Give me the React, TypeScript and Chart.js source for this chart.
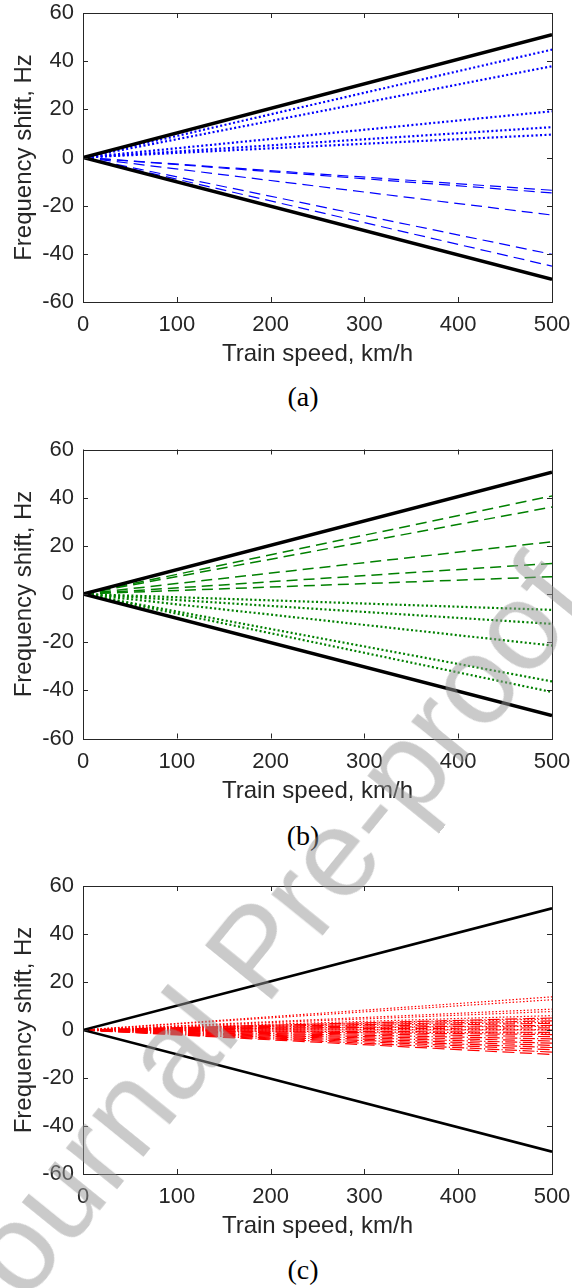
import React, { useEffect, useRef } from "react";
import { Chart, registerables } from "chart.js";

Chart.register(...registerables);

// ---------- data ----------
const speedKmh = [0, 500];
const xTickValues = [0, 100, 200, 300, 400, 500];
const yTickValues = [-60, -40, -20, 0, 20, 40, 60];

// Panel (a): frequency shift (Hz) at speeds [0, 500] km/h
const aEnvelope = [
  [0, 51.0],
  [0, -50.6],
];
const aBlueDotted = [
  [0, 44.8],
  [0, 37.9],
  [0, 19.2],
  [0, 12.6],
  [0, 9.5],
];
const aBlueDashed = [
  [0, -13.6],
  [0, -14.7],
  [0, -23.9],
  [0, -40.2],
  [0, -45.1],
];

// Panel (b)
const bEnvelope = [
  [0, 50.6],
  [0, -50.5],
];
const bGreenDashed = [
  [0, 40.7],
  [0, 36.1],
  [0, 21.7],
  [0, 12.7],
  [0, 7.2],
];
const bGreenDotted = [
  [0, -6.6],
  [0, -12.4],
  [0, -21.4],
  [0, -36.3],
  [0, -40.7],
];

// Panel (c)
const cEnvelope = [
  [0, 50.7],
  [0, -50.7],
];
const cRedDotted = [
  [0, 13.8],
  [0, 12.6],
  [0, 8.7],
  [0, 7.7],
  [0, 6.0],
  [0, 4.6],
  [0, 3.2],
  [0, 1.6],
  [0, 0.2],
  [0, -1.3],
];
const cRedDashed = [
  [0, 2.8],
  [0, 0.9],
  [0, -1.0],
  [0, -2.8],
  [0, -4.6],
  [0, -6.4],
  [0, -8.2],
  [0, -10.2],
];
const cRedDashDot = [
  [0, 5.0],
  [0, 3.8],
  [0, 1.9],
  [0, 0.0],
  [0, -1.9],
  [0, -3.7],
  [0, -5.5],
  [0, -7.3],
  [0, -9.2],
];

// ---------- styling ----------
const SANS = "'Liberation Sans', Arial, Helvetica, sans-serif";
const SERIF = "'Liberation Serif', 'Times New Roman', serif";
const AXIS_COLOR = "#262626";

type Style = { color: string; width: number; dash: number[] };

function lineSet(series: number[][], style: Style) {
  return series.map((vals) => ({
    data: speedKmh.map((x, i) => ({ x, y: vals[i] })),
    borderColor: style.color,
    borderWidth: style.width,
    borderDash: style.dash,
    pointRadius: 0,
    fill: false,
    tension: 0,
    borderCapStyle: "butt" as const,
  }));
}

const framePlugin = {
  id: "matlabFrame",
  afterDatasetsDraw(chart: any) {
    const { ctx, chartArea, scales } = chart;
    const { left, right, top, bottom } = chartArea;
    const x = scales.x;
    const y = scales.y;
    const L = 5;
    ctx.save();
    ctx.strokeStyle = AXIS_COLOR;
    ctx.lineWidth = 1;
    ctx.beginPath();
    xTickValues.forEach((v) => {
      const px = Math.round(x.getPixelForValue(v)) + 0.5;
      ctx.moveTo(px, bottom);
      ctx.lineTo(px, bottom - L);
      ctx.moveTo(px, top);
      ctx.lineTo(px, top + L);
    });
    yTickValues.forEach((v) => {
      const py = Math.round(y.getPixelForValue(v)) + 0.5;
      ctx.moveTo(left, py);
      ctx.lineTo(left + L, py);
      ctx.moveTo(right, py);
      ctx.lineTo(right - L, py);
    });
    ctx.stroke();
    ctx.strokeRect(
      Math.round(left) + 0.5,
      Math.round(top) + 0.5,
      Math.round(right - left),
      Math.round(bottom - top)
    );
    ctx.restore();
  },
};

function makeConfig(datasets: any[], padTop: number, padBottom: number): any {
  return {
    type: "line",
    data: { datasets },
    plugins: [framePlugin],
    options: {
      animation: false,
      responsive: false,
      devicePixelRatio: 1,
      layout: { padding: { top: padTop, right: 20, left: 0, bottom: padBottom } },
      plugins: { legend: { display: false }, tooltip: { enabled: false } },
      scales: {
        x: {
          type: "linear",
          min: 0,
          max: 500,
          afterBuildTicks: (s: any) => {
            s.ticks = xTickValues.map((v) => ({ value: v }));
          },
          afterFit: (s: any) => {
            s.height = 67;
            s.paddingLeft = 0;
            s.paddingRight = 0;
          },
          ticks: {
            color: AXIS_COLOR,
            font: { family: SANS, size: 22 },
            padding: 10,
            maxRotation: 0,
            autoSkip: false,
          },
          grid: { display: false, drawTicks: false },
          border: { display: false },
          title: {
            display: true,
            text: "Train speed, km/h",
            color: AXIS_COLOR,
            font: { family: SANS, size: 24 },
            padding: { top: 0, bottom: 0 },
          },
        },
        y: {
          type: "linear",
          min: -60,
          max: 60,
          afterBuildTicks: (s: any) => {
            s.ticks = yTickValues.map((v) => ({ value: v }));
          },
          afterFit: (s: any) => {
            s.width = 83;
            s.paddingTop = 0;
            s.paddingBottom = 0;
          },
          ticks: {
            color: AXIS_COLOR,
            font: { family: SANS, size: 22, lineHeight: 1 },
            padding: 9,
            autoSkip: false,
          },
          grid: { display: false, drawTicks: false },
          border: { display: false },
          title: {
            display: true,
            text: "Frequency shift, Hz",
            color: AXIS_COLOR,
            font: { family: SANS, size: 24 },
            padding: { top: 10, bottom: 0 },
          },
        },
      },
    },
  };
}

function Panel(props: { top: number; datasets: any[]; padTop: number; padBottom: number }) {
  const ref = useRef<HTMLCanvasElement | null>(null);
  useEffect(() => {
    if (!ref.current) return;
    const chart = new Chart(ref.current, makeConfig(props.datasets, props.padTop, props.padBottom));
    return () => chart.destroy();
  }, []);
  return (
    <canvas
      ref={ref}
      width={572}
      height={372}
      style={{ position: "absolute", left: 0, top: props.top, width: 572, height: 372, display: "block" }}
    />
  );
}

function Caption(props: { text: string; top: number }) {
  return (
    <div
      style={{
        position: "absolute",
        left: 303,
        top: props.top,
        transform: "translate(-50%, -50%)",
        fontFamily: SERIF,
        fontSize: 28,
        lineHeight: 1,
        color: "#000",
        whiteSpace: "nowrap",
      }}
    >
      {props.text}
    </div>
  );
}

const black35: Style = { color: "#000000", width: 3.5, dash: [] };
const black25: Style = { color: "#000000", width: 2.6, dash: [] };

const datasetsA = [
  ...lineSet(aEnvelope, black35),
  ...lineSet(aBlueDotted, { color: "#0000ff", width: 2.2, dash: [2, 2.4] }),
  ...lineSet(aBlueDashed, { color: "#0000ff", width: 1.2, dash: [11, 6] }),
];
const datasetsB = [
  ...lineSet(bEnvelope, black35),
  ...lineSet(bGreenDashed, { color: "#008000", width: 1.5, dash: [11, 6] }),
  ...lineSet(bGreenDotted, { color: "#008000", width: 2.2, dash: [2, 2.4] }),
];
const datasetsC = [
  ...lineSet(cEnvelope, black25),
  ...lineSet(cRedDotted, { color: "#ff0000", width: 1.2, dash: [1.5, 2] }),
  ...lineSet(cRedDashed, { color: "#ff0000", width: 1.2, dash: [12, 5.5] }),
  ...lineSet(cRedDashDot, { color: "#ff0000", width: 1.2, dash: [12, 2.2, 1.2, 2.2] }),
];

export default function App() {
  return (
    <div
      style={{
        position: "absolute",
        left: 0,
        top: 0,
        width: 572,
        height: 1288,
        overflow: "hidden",
        background: "#fff",
      }}
    >
      <Panel top={0} datasets={datasetsA} padTop={13} padBottom={3} />
      <Caption text="(a)" top={397} />
      <Panel top={436} datasets={datasetsB} padTop={13.5} padBottom={2.5} />
      <Caption text="(b)" top={836} />
      <Panel top={873} datasets={datasetsC} padTop={13} padBottom={4} />
      <Caption text="(c)" top={1270} />
      <div
        style={{
          position: "absolute",
          left: 255,
          top: 950,
          transform: "translate(-50%, -50%) rotate(-51deg)",
          fontFamily: SANS,
          fontSize: 125,
          lineHeight: 1,
          color: "rgba(150,150,150,0.5)",
          whiteSpace: "nowrap",
          pointerEvents: "none",
        }}
      >
        Journal Pre-proof
      </div>
    </div>
  );
}
